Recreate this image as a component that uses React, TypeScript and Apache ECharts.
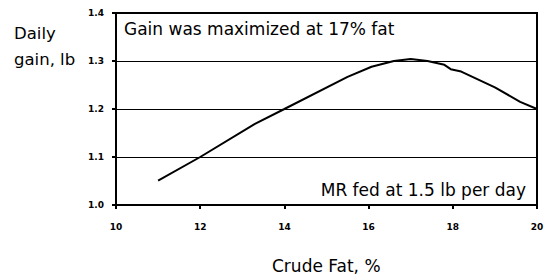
import React, { useEffect, useRef } from "react";
import * as echarts from "echarts";

const crudeFat = [11, 12, 13.3, 14, 15.5, 16.07, 16.6, 17, 17.4, 17.8, 17.95, 18.2, 19, 19.6, 20];
const dailyGain = [1.051, 1.1, 1.169, 1.2, 1.267, 1.288, 1.3, 1.304, 1.3, 1.292, 1.283, 1.278, 1.245, 1.215, 1.2];
const yTitle = ["Daily", "gain, lb"];
const xTitle = "Crude Fat, %";
const noteTop = "Gain was maximized at 17% fat";
const noteBottom = "MR fed at 1.5 lb per day";

const FONT = "DejaVu Sans";

export default function App() {
  const ref = useRef<HTMLDivElement>(null);
  useEffect(() => {
    if (!ref.current) return;
    const chart = echarts.init(ref.current, null, { renderer: "svg" });
    const data = crudeFat.map((x, i) => [x, dailyGain[i]]);
    chart.setOption({
      animation: false,
      grid: {
        left: 116,
        right: 20,
        top: 13,
        bottom: 75,
        show: true,
        borderColor: "#000",
        borderWidth: 2,
      },
      xAxis: {
        type: "value",
        min: 10,
        max: 20,
        interval: 2,
        axisLine: { show: true, lineStyle: { color: "#000", width: 2 } },
        axisTick: { show: true, length: 4, lineStyle: { color: "#000", width: 2 } },
        splitLine: { show: false },
        axisLabel: { color: "#000", fontSize: 9, fontWeight: "bold", fontFamily: FONT, margin: 17 },
      },
      yAxis: {
        type: "value",
        min: 1.0,
        max: 1.4,
        interval: 0.1,
        axisLine: { show: true, lineStyle: { color: "#000", width: 2 } },
        axisTick: { show: true, length: 4, lineStyle: { color: "#000", width: 2 } },
        splitLine: { show: true, lineStyle: { color: "#000", width: 1 } },
        axisLabel: {
          color: "#000",
          fontSize: 9,
          fontWeight: "bold",
          fontFamily: FONT,
          margin: 12,
          formatter: (v: number) => v.toFixed(1),
        },
      },
      series: [
        {
          type: "line",
          data,
          symbol: "none",
          smooth: false,
          lineStyle: { color: "#000", width: 2 },
        },
      ],
      graphic: [
        {
          type: "text",
          left: 14,
          top: 25,
          style: { text: yTitle[0], font: `16.5px '${FONT}'`, fill: "#000" },
        },
        {
          type: "text",
          left: 14,
          top: 51,
          style: { text: yTitle[1], font: `16.5px '${FONT}'`, fill: "#000" },
        },
        {
          type: "text",
          left: 124,
          top: 20,
          style: { text: noteTop, font: `17px '${FONT}'`, fill: "#000" },
        },
        {
          type: "text",
          right: 31,
          top: 181,
          style: { text: noteBottom, font: `17px '${FONT}'`, fill: "#000" },
        },
        {
          type: "text",
          left: 272,
          top: 257,
          style: { text: xTitle, font: `17px '${FONT}'`, fill: "#000" },
        },
      ],
    });
    return () => chart.dispose();
  }, []);
  return <div ref={ref} style={{ width: 557, height: 280, position: "absolute", left: 0, top: 0, background: "#fff" }} />;
}
